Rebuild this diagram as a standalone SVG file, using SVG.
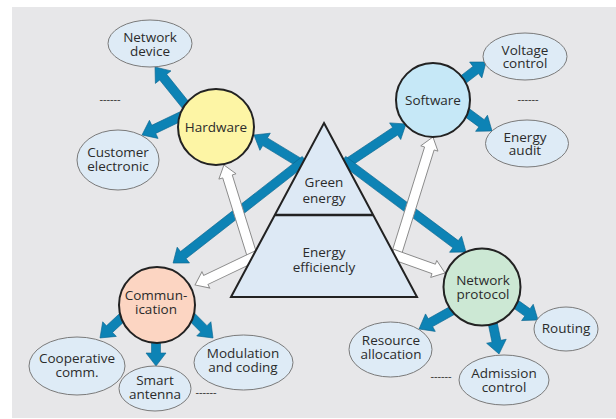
<svg xmlns="http://www.w3.org/2000/svg" width="616" height="419" viewBox="0 0 616 419">
  <style>
    text { font-family: "Open Sans", "Noto Sans", sans-serif; font-size: 13.5px; fill: #2b2b2b; text-anchor: middle; }
    .dash { font-size: 11px; }
    .leaf { fill: #deebf6; stroke: #7a7a7a; stroke-width: 1; }
    .hub { stroke: #222; stroke-width: 2; }
    .blue { fill: #0d83b5; stroke: #0a6690; stroke-width: 0.6; }
    .white { fill: #fff; stroke: #8a8a8a; stroke-width: 0.9; }
  </style>

  <!-- canvas -->
  <rect x="0" y="0" width="616" height="419" fill="#fff"/>
  <rect x="12" y="7" width="604" height="411" fill="#e7e7e9"/>

  <g id="connectors">
    <!-- blue arrows: triangle to the four areas -->
    <path class="blue" transform="translate(305,166) rotate(211.3)" d="M0,-4.5 H46.7 V-10 L59.7,0 L46.7,10 V4.5 H0 Z"/>
    <path class="blue" transform="translate(305,160) rotate(142)" d="M0,-4.5 H154.4 V-10 L167.4,0 L154.4,10 V4.5 H0 Z"/>
    <path class="blue" transform="translate(343,166) rotate(-33.7)" d="M0,-4.5 H62.7 V-10 L75.7,0 L62.7,10 V4.5 H0 Z"/>
    <path class="blue" transform="translate(343,160) rotate(36.8)" d="M0,-4.5 H140.6 V-10 L153.6,0 L140.6,10 V4.5 H0 Z"/>

    <!-- white arrows: energy efficiency to the four areas -->
    <path class="white" transform="translate(256,268) rotate(-107.3)" d="M0,-5 H95.9 V-9 L107.9,0 L95.9,9 V5 H0 Z"/>
    <path class="white" transform="translate(258,255) rotate(154.5)" d="M0,-5 H57.8 V-9 L69.8,0 L57.8,9 V5 H0 Z"/>
    <path class="white" transform="translate(394,262) rotate(-72.7)" d="M0,-5 H118.9 V-9 L130.9,0 L118.9,9 V5 H0 Z"/>
    <path class="white" transform="translate(392,254) rotate(19.7)" d="M0,-5 H44.3 V-9 L56.3,0 L44.3,9 V5 H0 Z"/>

    <!-- hardware -->
    <path class="blue" transform="translate(192,113) rotate(-128.8)" d="M0,-4.5 H46 V-10 L59,0 L46,10 V4.5 H0 Z"/>
    <path class="blue" transform="translate(190,112) rotate(154.4)" d="M0,-4.5 H40.2 V-10 L53.2,0 L40.2,10 V4.5 H0 Z"/>
    <!-- software -->
    <path class="blue" transform="translate(455,86) rotate(-37.7)" d="M0,-4.5 H26.2 V-10 L39.2,0 L26.2,10 V4.5 H0 Z"/>
    <path class="blue" transform="translate(458,106) rotate(36.3)" d="M0,-4.5 H29.2 V-10 L42.2,0 L29.2,10 V4.5 H0 Z"/>
    <!-- communication -->
    <path class="blue" transform="translate(130,310) rotate(137)" d="M0,-4.5 H28 V-10 L41,0 L28,10 V4.5 H0 Z"/>
    <path class="blue" transform="translate(156,330) rotate(90)" d="M0,-4.5 H23 V-10 L36,0 L23,10 V4.5 H0 Z"/>
    <path class="blue" transform="translate(185,310) rotate(45)" d="M0,-4.5 H26.6 V-10 L39.6,0 L26.6,10 V4.5 H0 Z"/>
    <!-- network protocol -->
    <path class="blue" transform="translate(462,305) rotate(150.8)" d="M0,-4.5 H36.2 V-10 L49.2,0 L36.2,10 V4.5 H0 Z"/>
    <path class="blue" transform="translate(490,310) rotate(78.4)" d="M0,-4.5 H31.9 V-10 L44.9,0 L31.9,10 V4.5 H0 Z"/>
    <path class="blue" transform="translate(510,300) rotate(35.5)" d="M0,-4.5 H21.4 V-10 L34.4,0 L21.4,10 V4.5 H0 Z"/>
  </g>

  <!-- central pyramid -->
  <g id="pyramid">
    <polygon points="324,123 417,297 231,297" fill="#dde9f5" stroke="#222" stroke-width="2" stroke-linejoin="miter"/>
    <line x1="275" y1="215" x2="373" y2="215" stroke="#222" stroke-width="2.5"/>
    <text x="324" y="187">Green<tspan x="324" dy="16">energy</tspan></text>
    <text x="324" y="257">Energy<tspan x="324" dy="15">efficiencly</tspan></text>
  </g>

  <g id="hardware">
    <circle class="hub" cx="216" cy="127" r="38" fill="#fdf5a5"/>
    <text x="216" y="132">Hardware</text>
  </g>
  <g id="software">
    <circle class="hub" cx="433" cy="100" r="37" fill="#c6e8f7"/>
    <text x="433" y="105">Software</text>
  </g>
  <g id="communication">
    <circle class="hub" cx="157" cy="305" r="38" fill="#fcd5c2"/>
    <text x="156" y="300">Commun-<tspan x="156" dy="14">ication</tspan></text>
  </g>
  <g id="network-protocol">
    <circle class="hub" cx="482" cy="287" r="38.5" fill="#cce8d4"/>
    <text x="483" y="285">Network<tspan x="483" dy="14">protocol</tspan></text>
  </g>

  <g id="network-device">
    <ellipse class="leaf" cx="150" cy="43.5" rx="42" ry="23.5"/>
    <text x="150" y="42">Network<tspan x="150" dy="14">device</tspan></text>
  </g>
  <g id="customer-electronic">
    <ellipse class="leaf" cx="118" cy="160" rx="41" ry="30"/>
    <text x="118" y="157">Customer<tspan x="118" dy="14">electronic</tspan></text>
  </g>
  <g id="voltage-control">
    <ellipse class="leaf" cx="525" cy="56.5" rx="42" ry="23.5"/>
    <text x="525" y="55">Voltage<tspan x="525" dy="13">control</tspan></text>
  </g>
  <g id="energy-audit">
    <ellipse class="leaf" cx="527" cy="143.5" rx="41.5" ry="23.5"/>
    <text x="525" y="142">Energy<tspan x="525" dy="13">audit</tspan></text>
  </g>
  <g id="cooperative-comm">
    <ellipse class="leaf" cx="77" cy="366" rx="48" ry="29"/>
    <text x="77" y="363">Cooperative<tspan x="77" dy="14">comm.</tspan></text>
  </g>
  <g id="smart-antenna">
    <ellipse class="leaf" cx="155" cy="388.5" rx="36" ry="22.5"/>
    <text x="155" y="385">Smart<tspan x="155" dy="14">antenna</tspan></text>
  </g>
  <g id="modulation-coding">
    <ellipse class="leaf" cx="243.5" cy="362.5" rx="49.5" ry="27.5"/>
    <text x="243" y="358">Modulation<tspan x="243" dy="14">and coding</tspan></text>
  </g>
  <g id="resource-allocation">
    <ellipse class="leaf" cx="390.5" cy="349.5" rx="41.5" ry="27.5"/>
    <text x="391" y="345">Resource<tspan x="391" dy="14">allocation</tspan></text>
  </g>
  <g id="admission-control">
    <ellipse class="leaf" cx="504" cy="380" rx="45" ry="25"/>
    <text x="504" y="378">Admission<tspan x="504" dy="14">control</tspan></text>
  </g>
  <g id="routing">
    <ellipse class="leaf" cx="566" cy="329" rx="32" ry="22"/>
    <text x="566" y="333">Routing</text>
  </g>

  <!-- ellipsis marks for further items -->
  <text class="dash" x="110" y="103">------</text>
  <text class="dash" x="528" y="103">------</text>
  <text class="dash" x="206" y="396">------</text>
  <text class="dash" x="441" y="380">------</text>
</svg>
